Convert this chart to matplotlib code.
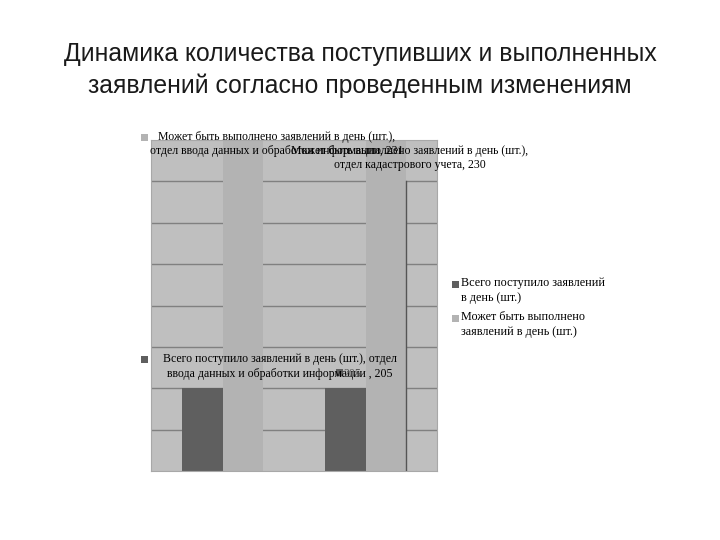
import matplotlib
matplotlib.use("Agg")
import matplotlib.pyplot as plt
from matplotlib.patches import Rectangle
import numpy as np

# ---- data ----
categories = ["отдел ввода данных и обработки информации", "отдел кадастрового учета"]
received = [205, 205]      # Всего поступило заявлений в день (шт.)
capacity = [231, 230]      # Может быть выполнено заявлений в день (шт.)
series_names = ["Всего поступило заявлений в день (шт.)",
                "Может быть выполнено заявлений в день (шт.)"]
title = "Динамика количества поступивших и выполненных\nзаявлений согласно проведенным изменениям"

W, H = 720, 540
fig = plt.figure(figsize=(7.2, 5.4), dpi=100, facecolor="white")

def fx(x):
    return x / W

def fy(y):
    return 1 - y / H

DARK = "#5f5f5f"
LIGHT = "#b3b3b3"
BG = "#bfbfbf"
GRID = "#808080"
SERIF = ["Liberation Serif", "DejaVu Serif"]

fig.text(0.5, fy(70), title, ha="center", va="center", fontsize=17.8,
         family=["Liberation Sans", "DejaVu Sans"], color="#1a1a1a", linespacing=1.4)

ax = fig.add_axes([fx(151), fy(471), fx(437) - fx(151), fy(140) - fy(471)])
ax.set_facecolor(BG)
x = np.arange(len(categories))
bw = 0.28
b1 = ax.bar(x - bw / 2, received, bw, color=DARK, zorder=2)
b2 = ax.bar(x + bw / 2, capacity, bw, color=LIGHT, zorder=2)
ax.set_xlim(-0.5, len(categories) - 0.5)
ax.set_ylim(203, 211)
ax.set_yticks(np.arange(204, 211, 1))
ax.yaxis.grid(True, color=GRID, linewidth=1.0)
ax.set_axisbelow(True)
ax.tick_params(left=False, bottom=False, labelleft=False, labelbottom=False)
for s in ax.spines.values():
    s.set_color("#a8a8a8")
    s.set_linewidth(0.8)

# vertical rule at right edge of last light bar
last = b2.patches[-1]
xr = last.get_x() + last.get_width()
ax.plot([xr, xr], [ax.get_ylim()[0], ax.get_yticks()[-1]], color="#555555",
        linewidth=1.0, zorder=3)

def key(xc, yc, color, s=7):
    fig.patches.append(Rectangle((fx(xc - s / 2), fy(yc + s / 2)), s / W, s / H,
                                 transform=fig.transFigure, facecolor=color,
                                 edgecolor="none", zorder=5))

FS = 8.5
# data labels (overlapping as in reference)
key(144, 137, LIGHT)
fig.text(fx(277), fy(144),
         f"{series_names[1]},\n{categories[0]}, {capacity[0]}",
         ha="center", va="center", fontsize=FS, family=SERIF, linespacing=1.25, zorder=6)
fig.text(fx(410), fy(158),
         f"{series_names[1]},\n{categories[1]}, {capacity[1]}",
         ha="center", va="center", fontsize=FS, family=SERIF, linespacing=1.25, zorder=6)
key(144, 359, DARK)
fig.text(fx(280), fy(366.5),
         "Всего поступило заявлений в день (шт.), отдел\nввода данных и обработки информации , "
         f"{received[0]}",
         ha="center", va="center", fontsize=FS, family=SERIF, linespacing=1.25, zorder=6)
key(339, 372, DARK)
fig.text(fx(343), fy(374), f"{received[1]}", ha="left", va="center",
         fontsize=FS, family=SERIF, color="#555555", zorder=6)

# legend
key(455, 284, DARK)
fig.text(fx(461), fy(290.5), "Всего поступило заявлений\nв день (шт.)", ha="left",
         va="center", fontsize=8.7, family=SERIF, linespacing=1.3)
key(455, 318, LIGHT)
fig.text(fx(461), fy(324.5), "Может быть выполнено\nзаявлений в день (шт.)", ha="left",
         va="center", fontsize=8.7, family=SERIF, linespacing=1.3)

fig.savefig("out.png", dpi=100, facecolor="white")
